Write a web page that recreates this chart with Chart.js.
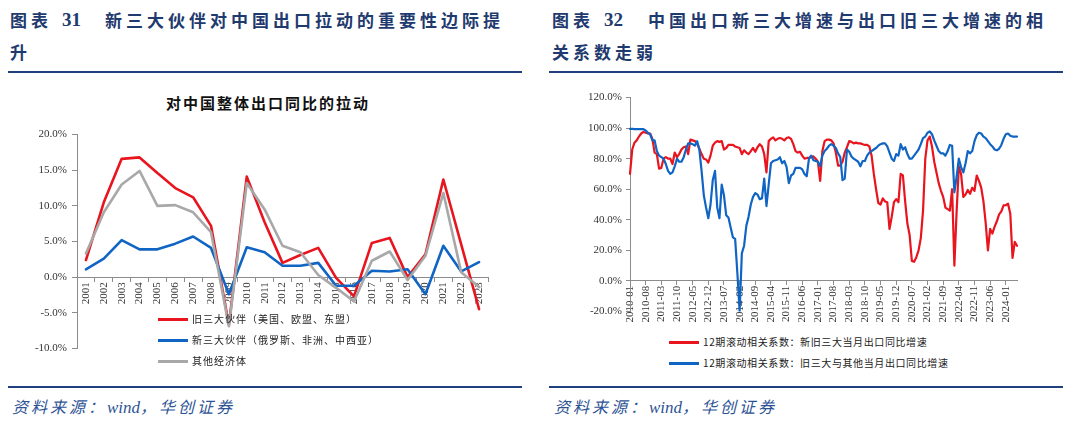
<!DOCTYPE html>
<html>
<head>
<meta charset="utf-8">
<script src="https://cdn.jsdelivr.net/npm/chart.js@4/dist/chart.umd.min.js"></script>
<style>
  body { margin: 0; width: 1080px; height: 431px; overflow: hidden; background: #fff; position: relative;
         font-family: "Liberation Serif", "Noto Sans CJK SC", serif; }
  .abs { position: absolute; white-space: nowrap; }
  .hd { color: #1F3A6E; font-family: "Noto Sans CJK SC", sans-serif; font-weight: 700; font-size: 17px; letter-spacing: 4px; line-height: 20px; }
  .num { font-family: "Liberation Serif", serif; font-weight: 700; font-size: 19px; letter-spacing: 0; }
  .rule { position: absolute; height: 2px; background: #1F3F7F; }
  .src { color: #2E5395; font-family: "Liberation Serif", "Noto Sans CJK SC", serif; font-style: italic; font-size: 16px; letter-spacing: 3px; line-height: 20px; }
  .src .en { letter-spacing: 0; font-size: 17px; }
  .ctitle { color: #111; font-family: "Noto Sans CJK SC", sans-serif; font-weight: 700; font-size: 15px; letter-spacing: 2px; line-height: 18px; }
  .lg { position: absolute; font-family: "Noto Sans CJK SC", sans-serif; font-size: 10px; letter-spacing: 1px; color: #222; line-height: 14px; }
  .lg div { position: relative; height: 21px; padding-left: 34px; }
  .lg span.sw { position: absolute; left: 0; top: 6px; width: 30px; height: 3px; }
  #legendRight { letter-spacing: 0.6px; }
  canvas { position: absolute; }
</style>
</head>
<body>
<!-- 图表31 -->
<div class="abs hd" style="left:10px; top:10px;">图表</div>
<div class="abs hd num" style="left:62px; top:10px;">31</div>
<div class="abs hd" style="left:105px; top:10px;">新三大伙伴对中国出口拉动的重要性边际提</div>
<div class="abs hd" style="left:10px; top:42px;">升</div>
<div class="rule" style="left:8px; width:514px; top:71px;"></div>
<div class="abs ctitle" style="left:166px; top:94px;">对中国整体出口同比的拉动</div>
<canvas id="chartLeft" width="500" height="237" style="left:0; top:123px;"></canvas>
<div id="legendLeft" class="lg" style="left:158px; top:312px;"></div>
<div class="rule" style="left:8px; width:514px; top:386px;"></div>
<div class="abs src" style="left:12px; top:398px;">资料来源：<span class="en">wind</span>，华创证券</div>

<!-- 图表32 -->
<div class="abs hd" style="left:552px; top:10px;">图表</div>
<div class="abs hd num" style="left:604px; top:10px;">32</div>
<div class="abs hd" style="left:648px; top:10px;">中国出口新三大增速与出口旧三大增速的相</div>
<div class="abs hd" style="left:552px; top:42px;">关系数走弱</div>
<div class="rule" style="left:549px; width:514px; top:71px;"></div>
<canvas id="chartRight" width="490" height="235" style="left:540px; top:87px;"></canvas>
<div id="legendRight" class="lg" style="left:669px; top:335px;"></div>
<div class="rule" style="left:549px; width:514px; top:386px;"></div>
<div class="abs src" style="left:554px; top:398px;">资料来源：<span class="en">wind</span>，华创证券</div>

<script>
// 图表31：各伙伴对中国整体出口同比的拉动（%）
const yearLabels = ["2001", "2002", "2003", "2004", "2005", "2006", "2007", "2008", "2009", "2010", "2011", "2012",
  "2013", "2014", "2015", "2016", "2017", "2018", "2019", "2020", "2021", "2022", "2023"];
const oldPartners = [2.4, 10.5, 16.6, 16.8, 14.6, 12.5, 11.2, 7.2, -6.7, 14.1, 7.7, 2.0,
  3.1, 4.1, -0.1, -2.7, 4.8, 5.5, 0.0, 3.2, 13.7, 4.6, -4.5];
const newPartners = [1.1, 2.6, 5.2, 3.9, 3.9, 4.7, 5.7, 4.1, -2.4, 4.2, 3.5, 1.6,
  1.6, 2.0, -1.2, -1.2, 0.9, 0.8, 1.1, -2.4, 4.4, 0.8, 2.1];
const otherEconomies = [3.3, 9.1, 13.0, 14.9, 10.0, 10.1, 9.1, 6.3, -6.9, 13.2, 9.5, 4.4,
  3.5, 0.3, -1.5, -3.4, 2.3, 3.6, -0.4, 3.0, 11.8, 0.7, -1.4];
const leftTicks = [-10, -5, 0, 5, 10, 15, 20];

// 图表32：12期滚动相关系数（%），2010-01 ~ 2024-06
const monthLabels = [];
for (let y = 2010; y <= 2024; y++) {
  for (let m = 1; m <= 12; m++) {
    if (y === 2024 && m > 6) break;
    monthLabels.push(y + "-" + String(m).padStart(2, "0"));
  }
}
const corrNewOld = [
  70, 86, 90.5, 92, 94.5, 96.5, 97.5, 97, 96.5, 96.5,
  93, 84, 83, 73.5, 74, 80, 81, 80, 80, 76.5,
  84, 81, 83, 86, 87.5, 88, 83, 92.5, 92, 91.5,
  90, 86.5, 83, 80, 79.5, 77.5, 82, 88.5, 90.5, 91.5,
  91, 91.5, 86, 87, 89, 89, 89, 88, 87.5, 87,
  83, 85.5, 84, 83, 85, 87, 84.5, 87.5, 89.5, 88,
  83, 71, 91.5, 93, 94, 92, 93, 93.5, 93, 92,
  93.5, 94, 93, 89.5, 85, 84, 84.5, 82, 80, 80.5,
  80.5, 81, 81.5, 80, 78, 65.5, 85, 91.5, 92.5, 92.5,
  92, 90, 84, 75.5, 75.5, 78, 84, 87.5, 91.5, 91,
  90, 90.5, 90, 90, 89.5, 89, 89, 88, 82, 70,
  60, 51, 50, 54, 52, 51.5, 34, 42, 51.5, 53.5,
  51.5, 70, 69, 52, 37.5, 30, 13, 12.5, 15.5, 20,
  28, 46, 80, 92, 94.5, 88, 78, 71, 64, 59,
  55, 48, 47, 46, 60, 10, 45, 75, 70, 55,
  56.5, 59.5, 57, 61, 59, 69, 65.5, 61, 52, 38,
  20, 34, 31, 35.5, 39, 43.5, 45.5, 49.5, 49.5, 50.5,
  44, 15, 25.5, 23
];
const corrOldOther = [
  99.5, 99.5, 99.3, 99.3, 99.3, 99.3, 99.3, 98.5, 97, 96,
  92, 92, 85, 82, 81, 80, 76.5, 72, 70, 71,
  75, 80, 78, 78, 81, 86, 90, 90, 89.5, 88.5,
  91.5, 86, 72, 56, 48, 41, 50, 66, 72, 48,
  41, 63, 56, 43, 41.5, 35, 28.5, 27.5, 5, -20,
  18, 23, 36, 42, 50, 55, 57.5, 56.5, 53.5, 54,
  67, 49, 63, 77, 78.5, 79, 79.5, 81, 77, 78.5,
  74.5, 64, 69, 70, 74, 74, 74, 73, 70, 68.5,
  80, 82, 79, 78.5, 78, 75, 82, 85, 86.5, 88.5,
  89.5, 88.5, 87, 83.5, 81, 66, 67, 86, 84.5, 81.5,
  80, 79, 78, 75, 78.5, 78.5, 82, 84, 85, 86,
  87, 88.5, 89.5, 90, 90, 88, 84, 80, 78.5, 83,
  82, 89.5, 86, 87.5, 83, 80, 80, 82, 84, 86,
  89.5, 93.5, 94.5, 97, 97.8, 96, 92, 88.5, 85, 83.5,
  83.5, 82, 85, 89, 88.5, 58, 68, 80, 74.5, 71,
  77, 85, 83.5, 85, 91.5, 95.5, 97, 96.5, 94.5, 93.5,
  91.5, 89.5, 88, 86, 85.5, 86.5, 89, 93, 96, 96.5,
  95, 94.5, 94.5, 94.5
];

const RED = "#E8141E";
const BLUE = "#1065C4";
const GRAY = "#A8A8A8";
const AXIS = "#8C8C8C";
const tickFont = { family: "'Liberation Serif', 'Times New Roman', serif", size: 11 };

function pct(v) {
  return v.toFixed(1) + "%";
}

// 凡例をHTMLで作成
function buildLegend(chart, id) {
  const box = document.getElementById(id);
  chart.data.datasets.forEach((ds) => {
    const row = document.createElement("div");
    const sw = document.createElement("span");
    sw.className = "sw";
    sw.style.background = ds.borderColor;
    row.appendChild(sw);
    row.appendChild(document.createTextNode(ds.label));
    box.appendChild(row);
  });
}

const lineBase = { pointRadius: 0, tension: 0, fill: false, borderJoinStyle: "round", borderCapStyle: "round" };

const chartLeft = new Chart(document.getElementById("chartLeft"), {
  type: "line",
  data: {
    labels: yearLabels,
    datasets: [
      { ...lineBase, label: "旧三大伙伴（美国、欧盟、东盟）", data: oldPartners, borderColor: RED, borderWidth: 2.6, order: 3 },
      { ...lineBase, label: "新三大伙伴（俄罗斯、非洲、中西亚）", data: newPartners, borderColor: BLUE, borderWidth: 2.6, order: 2 },
      { ...lineBase, label: "其他经济体", data: otherEconomies, borderColor: GRAY, borderWidth: 2.6, order: 1 },
    ],
  },
  options: {
    responsive: false,
    animation: false,
    layout: { padding: { top: 10, bottom: 10, left: 0, right: 12 } },
    plugins: { legend: { display: false }, tooltip: { enabled: false } },
    scales: {
      x: {
        position: { y: 0 },
        offset: true,
        grid: { drawOnChartArea: false, offset: true, tickLength: 4, color: AXIS },
        border: { color: AXIS, width: 1 },
        ticks: { autoSkip: false, maxRotation: 90, minRotation: 90, padding: 1, color: "#333", font: tickFont },
      },
      y: {
        min: -10,
        max: 20,
        afterBuildTicks: (axis) => { axis.ticks = leftTicks.map((v) => ({ value: v })); },
        afterFit: (axis) => { axis.width = 77; },
        grid: { drawOnChartArea: false, tickLength: 5, color: AXIS },
        border: { color: AXIS, width: 1 },
        ticks: { padding: 5, color: "#333", font: tickFont, callback: (v) => pct(v) },
      },
    },
  },
});
buildLegend(chartLeft, "legendLeft");

const chartRight = new Chart(document.getElementById("chartRight"), {
  type: "line",
  data: {
    labels: monthLabels,
    datasets: [
      { ...lineBase, label: "12期滚动相关系数：新旧三大当月出口同比增速", data: corrNewOld, borderColor: RED, borderWidth: 2.2, order: 2 },
      { ...lineBase, label: "12期滚动相关系数：旧三大与其他当月出口同比增速", data: corrOldOther, borderColor: BLUE, borderWidth: 2.2, order: 1 },
    ],
  },
  options: {
    responsive: false,
    animation: false,
    layout: { padding: { top: 10, bottom: 10, left: 0, right: 13 } },
    plugins: { legend: { display: false }, tooltip: { enabled: false } },
    scales: {
      x: {
        position: { y: 0 },
        offset: false,
        grid: { drawOnChartArea: false, tickLength: 4, color: AXIS },
        border: { color: AXIS, width: 1 },
        ticks: {
          autoSkip: false, maxRotation: 90, minRotation: 90, padding: 1, color: "#333", font: tickFont,
          callback: (v, i) => (i % 7 === 0 ? monthLabels[i] : null),
        },
      },
      y: {
        min: -20,
        max: 120,
        afterFit: (axis) => { axis.width = 90; },
        grid: { drawOnChartArea: false, tickLength: 4, color: AXIS },
        border: { color: AXIS, width: 1 },
        ticks: { stepSize: 20, padding: 4, color: "#333", font: tickFont, callback: (v) => pct(v) },
      },
    },
  },
});
buildLegend(chartRight, "legendRight");
</script>
</body>
</html>
